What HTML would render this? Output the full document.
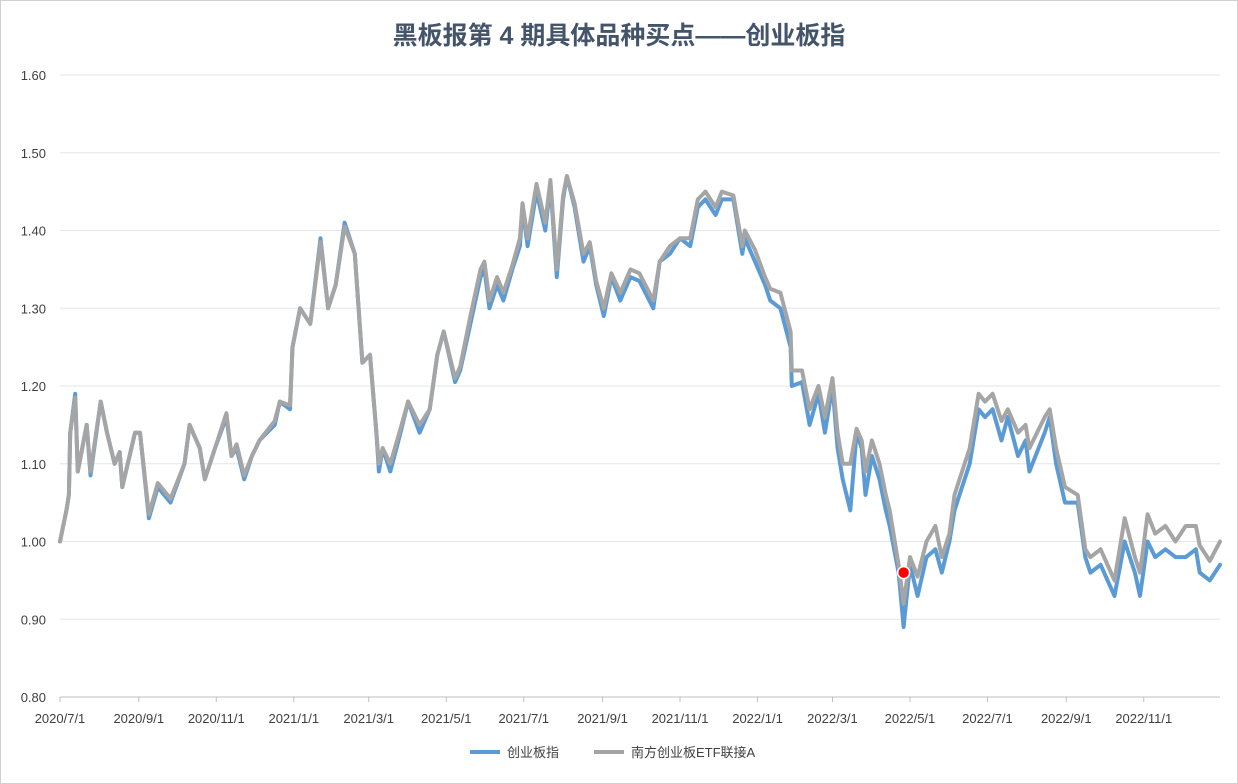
<!DOCTYPE html>
<html><head><meta charset="utf-8"><style>
body{margin:0;background:#fff;}
svg{display:block;font-family:"Liberation Sans","Noto Sans CJK SC",sans-serif;}
</style></head><body>
<svg id="chart" width="1238" height="784">
<rect x="0.5" y="0.5" width="1237" height="783" fill="#fff" stroke="#d0d0d0"/>
<text x="619" y="44" text-anchor="middle" font-size="25" font-weight="bold" fill="#44546a">黑板报第 4 期具体品种买点——创业板指</text>
<g id="grid"></g><g id="yl"></g><g id="xl"></g><g id="lines"></g>
<g>
<line x1="470" y1="752" x2="500" y2="752" stroke="#5b9bd5" stroke-width="4"/>
<text x="507" y="757" font-size="13" fill="#404040">创业板指</text>
<line x1="594" y1="752" x2="624" y2="752" stroke="#a5a5a5" stroke-width="4"/>
<text x="631" y="757" font-size="13" fill="#404040">南方创业板ETF联接A</text>
</g>
</svg>
<script>
const days=[0,5,7,8,12,14,21,24,32,37,43,47,49,59,63,70,77,87,98,102,110,114,122,131,135,139,145,151,157,169,173,181,183,189,197,205,211,217,224,232,238,244,249,251,254,260,268,274,283,291,297,302,311,315,323,331,334,338,344,349,356,362,364,368,375,382,386,391,396,399,405,412,417,422,428,434,441,449,456,467,472,480,488,496,502,508,516,521,530,537,539,547,555,559,567,575,576,584,590,597,602,608,612,616,622,627,631,634,639,645,650,653,660,664,669,675,682,689,694,700,704,708,716,723,728,734,741,746,754,760,763,775,779,784,791,801,807,811,819,830,838,846,850,856,862,870,878,886,894,897,905,913];
const cybValues=[1.00,1.04,1.06,1.14,1.19,1.09,1.15,1.085,1.18,1.14,1.10,1.115,1.07,1.14,1.14,1.03,1.07,1.05,1.10,1.15,1.12,1.08,1.12,1.16,1.11,1.12,1.08,1.11,1.13,1.15,1.18,1.17,1.25,1.30,1.28,1.39,1.30,1.33,1.41,1.37,1.23,1.24,1.14,1.09,1.12,1.09,1.14,1.18,1.14,1.17,1.24,1.27,1.205,1.22,1.28,1.34,1.35,1.30,1.33,1.31,1.35,1.38,1.43,1.38,1.45,1.40,1.46,1.34,1.44,1.47,1.43,1.36,1.38,1.33,1.29,1.34,1.31,1.34,1.335,1.30,1.36,1.37,1.39,1.38,1.43,1.44,1.42,1.44,1.44,1.37,1.39,1.36,1.33,1.31,1.30,1.25,1.20,1.205,1.15,1.19,1.14,1.20,1.12,1.08,1.04,1.14,1.12,1.06,1.11,1.08,1.04,1.02,0.96,0.89,0.97,0.93,0.98,0.99,0.96,1.00,1.04,1.06,1.10,1.17,1.16,1.17,1.13,1.16,1.11,1.13,1.09,1.14,1.16,1.10,1.05,1.05,0.98,0.96,0.97,0.93,1.00,0.96,0.93,1.00,0.98,0.99,0.98,0.98,0.99,0.96,0.95,0.97];
const etfValues=[1.00,1.04,1.06,1.14,1.185,1.09,1.15,1.09,1.18,1.14,1.10,1.115,1.07,1.14,1.14,1.035,1.075,1.055,1.10,1.15,1.12,1.08,1.12,1.165,1.11,1.125,1.085,1.11,1.13,1.155,1.18,1.175,1.25,1.30,1.28,1.385,1.30,1.33,1.405,1.37,1.23,1.24,1.14,1.10,1.12,1.10,1.145,1.18,1.15,1.17,1.24,1.27,1.21,1.225,1.29,1.35,1.36,1.31,1.34,1.32,1.355,1.39,1.435,1.39,1.46,1.41,1.465,1.35,1.445,1.47,1.435,1.37,1.385,1.335,1.30,1.345,1.32,1.35,1.345,1.31,1.36,1.38,1.39,1.39,1.44,1.45,1.43,1.45,1.445,1.38,1.40,1.375,1.34,1.325,1.32,1.27,1.22,1.22,1.17,1.20,1.16,1.21,1.14,1.10,1.10,1.145,1.13,1.09,1.13,1.10,1.06,1.04,0.97,0.92,0.98,0.955,1.00,1.02,0.98,1.01,1.06,1.08,1.12,1.19,1.18,1.19,1.155,1.17,1.14,1.15,1.12,1.16,1.17,1.12,1.07,1.06,0.99,0.98,0.99,0.95,1.03,0.98,0.96,1.035,1.01,1.02,1.00,1.02,1.02,0.995,0.975,1.00];
const yTicks=[0.80,0.90,1.00,1.10,1.20,1.30,1.40,1.50,1.60];
const xTickLabels=["2020/7/1","2020/9/1","2020/11/1","2021/1/1","2021/3/1","2021/5/1","2021/7/1","2021/9/1","2021/11/1","2022/1/1","2022/3/1","2022/5/1","2022/7/1","2022/9/1","2022/11/1"];
const xTickDays=[0,62,123,184,243,304,365,427,488,549,608,669,730,792,853];
const buyPointDay=664, buyPointValue=0.96;

const NS="http://www.w3.org/2000/svg";
const X0=60,X1=1220,Y0=697,Y1=75,D1=913;
const xs=d=>X0+(X1-X0)*d/D1;
const ys=v=>Y0-(v-0.8)/0.8*(Y0-Y1);
function mk(tag,attrs,parent){const e=document.createElementNS(NS,tag);for(const k in attrs)e.setAttribute(k,attrs[k]);parent.appendChild(e);return e;}
const grid=document.getElementById('grid'),yl=document.getElementById('yl'),xl=document.getElementById('xl'),lines=document.getElementById('lines');
yTicks.forEach(t=>{
 const g=mk('line',{x1:X0,x2:X1,y1:ys(t),y2:ys(t),stroke:t===0.8?'#bfbfbf':'#e3e6ea','stroke-width':1},grid);
 
 
 const l=mk('text',{x:46,y:ys(t)+5,'text-anchor':'end','font-size':13,fill:'#404040'},yl);
 l.textContent=t.toFixed(2);
 
 
});
xTickLabels.forEach((s,i)=>{
 const x=xs(xTickDays[i]);
 const tk=mk('line',{x1:x,x2:x,y1:Y0,y2:Y0+5,stroke:'#bfbfbf'},xl);
 
 
 const l=mk('text',{x:x,y:Y0+26,'text-anchor':'middle','font-size':13,fill:'#404040'},xl);
 l.textContent=s;
 
 
});
function path(vals,color,name){
 const d=vals.map((v,i)=>(i?'L':'M')+xs(days[i]).toFixed(1)+','+ys(v).toFixed(1)).join('');
 const p=mk('path',{d:d,fill:'none',stroke:color,'stroke-width':4,'stroke-linejoin':'round','stroke-linecap':'round'},lines);
 
 
}
path(cybValues,'#5b9bd5','series-cyb');
path(etfValues,'#a5a5a5','series-etf');
const m=mk('circle',{cx:xs(buyPointDay),cy:ys(buyPointValue),r:6,fill:'#ff0000',stroke:'#fff','stroke-width':1.5},lines);


</script>
</body></html>
